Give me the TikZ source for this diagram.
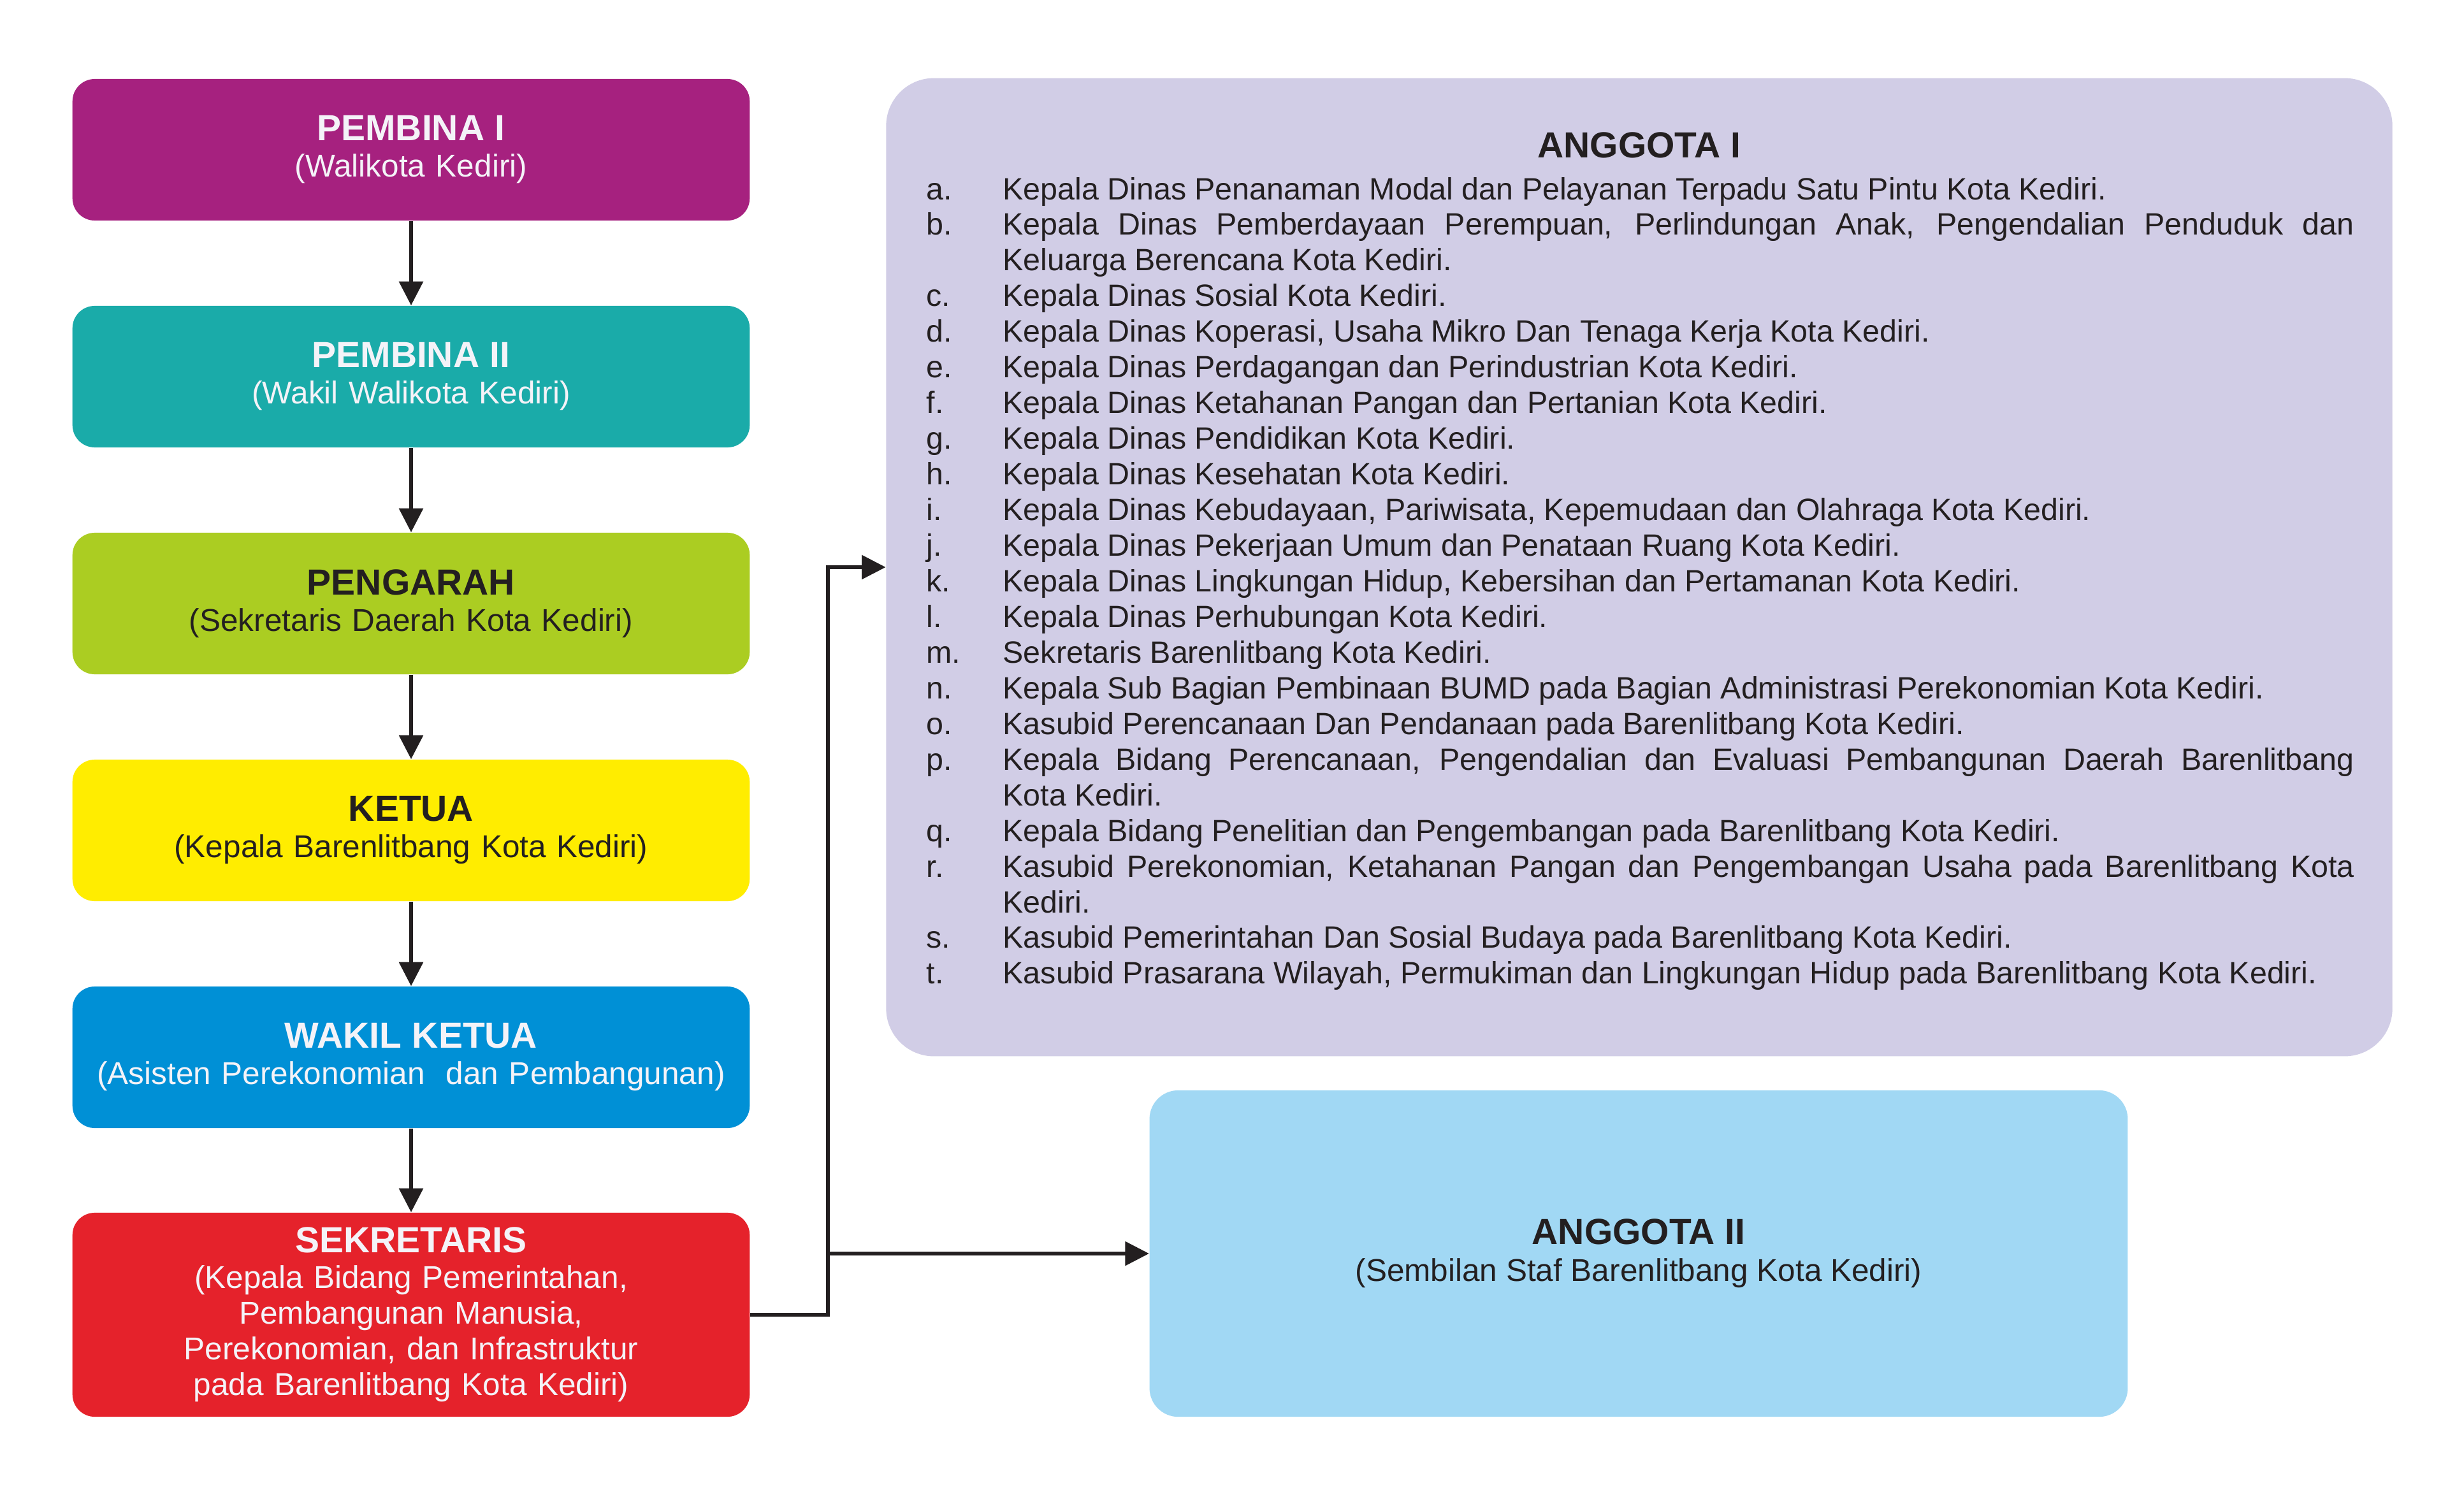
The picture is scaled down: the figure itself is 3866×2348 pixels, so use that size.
\documentclass[tikz,border=0pt]{standalone}
\usepackage{fontspec}
\setmainfont{Liberation Sans}
\usetikzlibrary{arrows.meta}
\definecolor{cPembA}{HTML}{A6217F}
\definecolor{cPembB}{HTML}{1AABA9}
\definecolor{cPeng}{HTML}{ABCD22}
\definecolor{cKetua}{HTML}{FFED00}
\definecolor{cWakil}{HTML}{0090D6}
\definecolor{cSek}{HTML}{E5222B}
\definecolor{cAngA}{HTML}{D1CDE6}
\definecolor{cAngB}{HTML}{A1D8F4}
\definecolor{ink}{HTML}{231F20}
\definecolor{paper}{HTML}{F4F3F8}
\newcommand\boxtitle[1]{{\fontsize{16.2pt}{16.2pt}\selectfont\bfseries #1}}
\begin{document}
\begin{tikzpicture}[x=0.01cm,y=-0.01cm,
  leftbox/.style={rectangle, rounded corners=0.35cm, minimum width=10.62cm,
    minimum height=2.22cm, inner sep=0pt, text width=10.5cm, align=center,
    font=\fontsize{14.08pt}{16.2pt}\selectfont, text=paper},
  darktext/.style={text=ink},
  arr/.style={draw=ink, line width=0.06cm, line join=miter,
    -{Triangle[length=0.375cm,width=0.37cm]}},
  listlab/.style={anchor=base west, inner sep=0pt,
    font=\fontsize{13.75pt}{16pt}\selectfont, text=ink},
  listtxt/.style={listlab}
]
\fill[white] (0,0) rectangle (3866,2348);
\useasboundingbox (0,0) rectangle (3866,2348);

% left column
\node[leftbox, fill=cPembA] (p1) at (645,235) {\boxtitle{PEMBINA I}\\(Walikota Kediri)};
\node[leftbox, fill=cPembB] (p2) at (645,591) {\boxtitle{PEMBINA II}\\(Wakil Walikota Kediri)};
\node[leftbox, fill=cPeng, darktext] (p3) at (645,947) {\boxtitle{PENGARAH}\\(Sekretaris Daerah Kota Kediri)};
\node[leftbox, fill=cKetua, darktext] (p4) at (645,1303) {\boxtitle{KETUA}\\(Kepala Barenlitbang Kota Kediri)};
\node[leftbox, fill=cWakil] (p5) at (645,1659) {\boxtitle{WAKIL KETUA}\\(Asisten Perekonomian\ \ dan Pembangunan)};
\node[leftbox, fill=cSek, minimum height=3.2cm, font=\fontsize{14.08pt}{15.95pt}\selectfont] (sek) at (645,2063)
  {\boxtitle{SEKRETARIS}\\(Kepala Bidang Pemerintahan,\\Pembangunan Manusia,\\Perekonomian, dan Infrastruktur\\pada Barenlitbang Kota Kediri)};

% right boxes
\node[rectangle, rounded corners=0.75cm, fill=cAngA, minimum width=23.62cm,
  minimum height=15.34cm, inner sep=0pt] (ag1) at (2572,890) {};
\node[anchor=base, inner sep=0pt, text=ink] (ag1t) at (2572,247) {\boxtitle{ANGGOTA I}};
\node[rectangle, rounded corners=0.45cm, fill=cAngB, minimum width=15.34cm,
  minimum height=5.12cm, inner sep=0pt, text=ink, align=center,
  font=\fontsize{14.08pt}{16.4pt}\selectfont] (ag2) at (2571,1967)
  {\boxtitle{ANGGOTA II}\\(Sembilan Staf Barenlitbang Kota Kediri)};

% list of ANGGOTA I
\foreach \k/\lab in {0/a., 1/b., 3/c., 4/d., 5/e., 6/f., 7/g., 8/h., 9/i., 10/j.,
  11/k., 12/l., 13/m., 14/n., 15/o., 16/p., 18/q., 19/r., 21/s., 22/t.}
  \node[listlab] (lab\k) at (1453,{313+55.95*\k}) {\lab};
\foreach \k/\txt in {
  0/{Kepala Dinas Penanaman Modal dan Pelayanan Terpadu Satu Pintu Kota Kediri.},
  1/{\makebox[21.19cm][s]{Kepala Dinas Pemberdayaan Perempuan, Perlindungan Anak, Pengendalian Penduduk dan}},
  2/{Keluarga Berencana Kota Kediri.},
  3/{Kepala Dinas Sosial Kota Kediri.},
  4/{Kepala Dinas Koperasi, Usaha Mikro Dan Tenaga Kerja Kota Kediri.},
  5/{Kepala Dinas Perdagangan dan Perindustrian Kota Kediri.},
  6/{Kepala Dinas Ketahanan Pangan dan Pertanian Kota Kediri.},
  7/{Kepala Dinas Pendidikan Kota Kediri.},
  8/{Kepala Dinas Kesehatan Kota Kediri.},
  9/{Kepala Dinas Kebudayaan, Pariwisata, Kepemudaan dan Olahraga Kota Kediri.},
  10/{Kepala Dinas Pekerjaan Umum dan Penataan Ruang Kota Kediri.},
  11/{Kepala Dinas Lingkungan Hidup, Kebersihan dan Pertamanan Kota Kediri.},
  12/{Kepala Dinas Perhubungan Kota Kediri.},
  13/{Sekretaris Barenlitbang Kota Kediri.},
  14/{Kepala Sub Bagian Pembinaan BUMD pada Bagian Administrasi Perekonomian Kota Kediri.},
  15/{Kasubid Perencanaan Dan Pendanaan pada Barenlitbang Kota Kediri.},
  16/{\makebox[21.19cm][s]{Kepala Bidang Perencanaan, Pengendalian dan Evaluasi Pembangunan Daerah Barenlitbang}},
  17/{Kota Kediri.},
  18/{Kepala Bidang Penelitian dan Pengembangan pada Barenlitbang Kota Kediri.},
  19/{\makebox[21.19cm][s]{Kasubid Perekonomian, Ketahanan Pangan dan Pengembangan Usaha pada Barenlitbang Kota}},
  20/{Kediri.},
  21/{Kasubid Pemerintahan Dan Sosial Budaya pada Barenlitbang Kota Kediri.},
  22/{Kasubid Prasarana Wilayah, Permukiman dan Lingkungan Hidup pada Barenlitbang Kota Kediri.}}
  \node[listtxt] (txt\k) at (1573,{313+55.95*\k}) {\txt};

% connectors
\draw[arr] (p1) -- (p2);
\draw[arr] (p2) -- (p3);
\draw[arr] (p3) -- (p4);
\draw[arr] (p4) -- (p5);
\draw[arr] (p5) -- (sek);
\coordinate (xj) at (1299,0);
\draw[arr] (sek.east) -- (sek.east -| xj) |- (ag1.west);
\draw[arr] (xj |- ag2.west) -- (ag2.west);
\end{tikzpicture}
\end{document}
